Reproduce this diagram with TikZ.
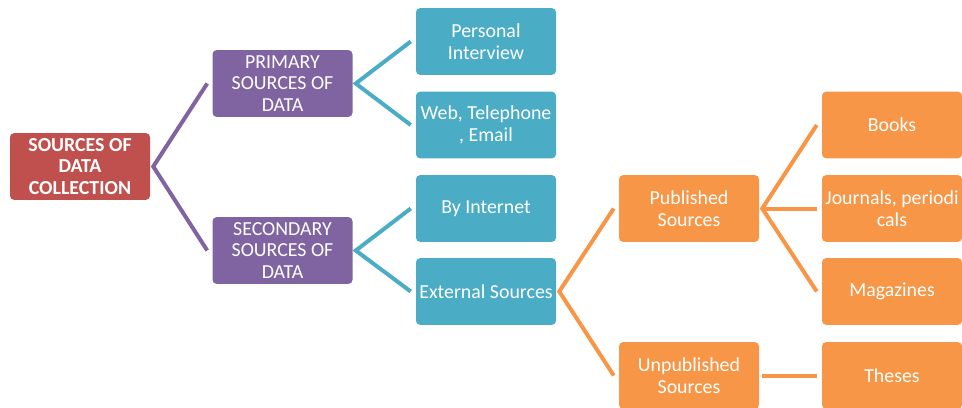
\documentclass[tikz,border=0pt]{standalone}
\usepackage{fontspec}
\setmainfont{Carlito}
\definecolor{rootred}{HTML}{C0504D}
\definecolor{lvlpurple}{HTML}{8064A2}
\definecolor{lvlteal}{HTML}{4BACC6}
\definecolor{lvlorange}{HTML}{F79646}
\begin{document}
\begin{tikzpicture}[x=0.75pt,y=-0.75pt,
  box/.style={rectangle, rounded corners=3pt, minimum width=105pt, minimum height=50pt,
    inner sep=0pt, align=center, text=white,
    font=\fontsize{14.9}{16.2}\selectfont},
  rootbox/.style={box, fill=rootred, font=\fontsize{14.9}{16.2}\selectfont\bfseries},
  purplebox/.style={box, fill=lvlpurple},
  tealbox/.style={box, fill=lvlteal},
  orangebox/.style={box, fill=lvlorange},
  link/.style={line width=3pt, line join=miter},
]
\useasboundingbox (0,0) rectangle (962,407);

% boxes
\node[rootbox]   (root) at (80,166.5)  {SOURCES OF\\DATA\\COLLECTION};
\node[purplebox] (prim) at (282.5,83.5) {PRIMARY\\SOURCES OF\\DATA};
\node[purplebox] (sec)  at (282.5,250.5) {SECONDARY\\SOURCES OF\\DATA};
\node[tealbox]   (pers) at (486,41.5)  {Personal\\Interview};
\node[tealbox]   (web)  at (486,125)   {Web, Telephone\\, Email};
\node[tealbox]   (inet) at (486,208.5) {By Internet};
\node[tealbox]   (ext)  at (486,291.5) {External Sources};
\node[orangebox] (pub)  at (689,208.5) {Published\\Sources};
\node[orangebox] (unp)  at (689,375.5) {Unpublished\\Sources};
\node[orangebox] (book) at (892,125)   {Books};
\node[orangebox] (jour) at (892,208.5) {Journals, periodi\\cals};
\node[orangebox] (mag)  at (892,291.5) {Magazines};
\node[orangebox] (thes) at (892,375.5) {Theses};

% connectors
\draw[link, lvlpurple] ([xshift=-3.75pt]prim.west) -- ([xshift=2.25pt]root.east) -- ([xshift=-3.75pt]sec.west);
\draw[link, lvlteal] ([xshift=-3.75pt]pers.west) -- ([xshift=2.25pt]prim.east) -- ([xshift=-3.75pt]web.west);
\draw[link, lvlteal] ([xshift=-3.75pt]inet.west) -- ([xshift=2.25pt]sec.east) -- ([xshift=-3.75pt]ext.west);
\draw[link, lvlorange] ([xshift=-3.75pt]pub.west) -- ([xshift=2.25pt]ext.east) -- ([xshift=-3.75pt]unp.west);
\draw[link, lvlorange] ([xshift=-3.75pt]book.west) -- ([xshift=2.25pt]pub.east) -- ([xshift=-3.75pt]mag.west);
\draw[link, lvlorange] ([xshift=2.25pt]pub.east) -- ([xshift=-3.75pt]jour.west);
\draw[link, lvlorange] ([xshift=2.25pt]unp.east) -- ([xshift=-3.75pt]thes.west);
\end{tikzpicture}
\end{document}
